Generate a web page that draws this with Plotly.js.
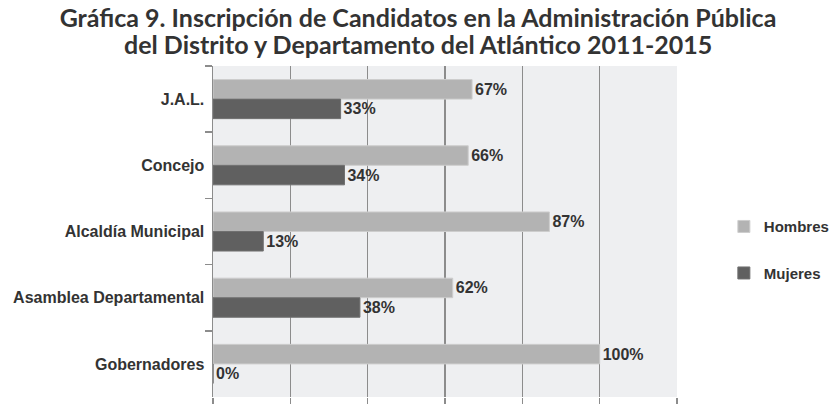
<!DOCTYPE html>
<html>
<head>
<meta charset="utf-8">
<script src="https://cdn.plot.ly/plotly-3.0.1.min.js"></script>
<style>html,body{margin:0;padding:0;background:#fff;}#chart{width:836px;height:404px;}</style>
</head>
<body>
<div id="chart"></div>
<script>
const categories = ["J.A.L.", "Concejo", "Alcaldía Municipal", "Asamblea Departamental", "Gobernadores"];
const hombres = [67, 66, 87, 62, 100];
const mujeres = [33, 34, 13, 38, 0];
const xTicks = [0, 20, 40, 60, 80, 100, 120];
const titleLine1 = 'Gráfica 9. Inscripción de Candidatos en la Administración Pública';
const titleLine2 = 'del Distrito y Departamento del Atlántico 2011-2015';

const narrow = '"Liberation Sans Narrow", "Arial Narrow", "Liberation Sans", Arial, sans-serif';
const labelFont = {family: narrow, size: 16, color: '#333333', weight: 'bold'};
const titleFont = {family: 'Lato, "Open Sans", sans-serif', size: 25, color: '#333333', weight: 'bold'};

const traces = [
  {
    type: 'bar', orientation: 'h', name: 'Hombres', legendgroup: 'h',
    y: categories, x: hombres,
    text: hombres.map(v => v + '%'), textposition: 'outside', cliponaxis: false,
    textfont: labelFont,
    marker: {color: '#b3b3b3', line: {color: '#cdcdcd', width: 1}},
    hoverinfo: 'none'
  },
  {
    type: 'bar', orientation: 'h', name: 'Mujeres', legendgroup: 'm',
    y: categories, x: mujeres,
    text: mujeres.map(v => v + '%'), textposition: 'outside', cliponaxis: false,
    textfont: labelFont,
    marker: {color: '#606060', line: {color: '#707070', width: 1}},
    hoverinfo: 'none'
  }
];

const layout = {
  width: 836, height: 404,
  margin: {l: 213, r: 159, t: 66, b: 7, pad: 0, autoexpand: false},
  paper_bgcolor: '#ffffff',
  plot_bgcolor: '#eeeff1',
  barmode: 'group',
  bargap: 0.41,
  bargroupgap: 0,
  title: {
    text: titleLine1,
    font: titleFont,
    x: 0.5, xref: 'container', xanchor: 'center',
    y: 1 - 18 / 404, yref: 'container', yanchor: 'middle',
    automargin: false
  },
  annotations: [{
    text: titleLine2, font: titleFont, showarrow: false,
    xref: 'paper', x: (418 - 213) / 464, xanchor: 'center',
    yref: 'paper', y: 1 + 22 / 331.5, yanchor: 'middle'
  }],
  xaxis: {
    range: [0, 120], tickvals: xTicks, showticklabels: false,
    showgrid: true, gridcolor: '#8c8c8c', gridwidth: 1.5,
    zeroline: false, showline: false,
    ticks: 'outside', ticklen: 6, tickcolor: '#8c8c8c', tickwidth: 1.5,
    fixedrange: true
  },
  yaxis: {
    autorange: 'reversed', type: 'category',
    showline: true, linecolor: '#8c8c8c', linewidth: 1.5,
    ticks: 'outside', tickson: 'boundaries', ticklen: 7, tickcolor: '#8c8c8c', tickwidth: 1.5,
    showgrid: false,
    tickfont: {family: narrow, size: 16, color: '#333333', weight: 'bold'},
    ticklabelstandoff: 4,
    fixedrange: true
  },
  showlegend: true,
  legend: {
    x: 1.101, xanchor: 'left', y: 0.445, yanchor: 'middle',
    traceorder: 'grouped', tracegroupgap: 24,
    font: {family: narrow, size: 15, color: '#333333', weight: 'bold'},
    bgcolor: 'rgba(0,0,0,0)', itemwidth: 30
  }
};

Plotly.newPlot('chart', traces, layout, {displayModeBar: false, staticPlot: true});
</script>
</body>
</html>
